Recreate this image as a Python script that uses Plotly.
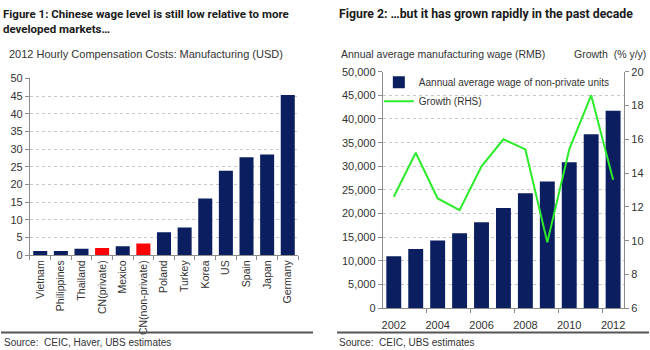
import plotly.graph_objects as go

# ---------------- data ----------------
countries = ["Vietnam", "Philippines", "Thailand", "CN(private)", "Mexico", "CN(non-private)",
             "Poland", "Turkey", "Korea", "US", "Spain", "Japan", "Germany"]
hourly_cost = [1.2, 1.2, 1.8, 2.0, 2.5, 3.3, 6.5, 7.8, 16.0, 23.9, 27.7, 28.5, 45.3]
highlight = ["CN(private)", "CN(non-private)"]

years = [2002, 2003, 2004, 2005, 2006, 2007, 2008, 2009, 2010, 2011, 2012]
wage = [11000, 12500, 14300, 15850, 18200, 21200, 24300, 26800, 30850, 36800, 41750]
growth = [12.6, 15.2, 12.5, 11.8, 14.4, 16.0, 15.4, 9.9, 15.4, 18.6, 13.6]

left_ticks = [0, 5, 10, 15, 20, 25, 30, 35, 40, 45, 50]
wage_ticks = [0, 5000, 10000, 15000, 20000, 25000, 30000, 35000, 40000, 45000, 50000]
growth_ticks = [6, 8, 10, 12, 14, 16, 18, 20]
year_labels = [2002, 2004, 2006, 2008, 2010, 2012]

# ---------------- styles ----------------
W, H = 650, 350
NAVY = "#0B1F60"
RED = "#FF0000"
GREEN = "#2BEB2B"
AXIS = "#8C8C8C"
GRID = "#C8C8C8"
TXT = "#333333"
FONT = "Liberation Sans, Arial, sans-serif"
TFONT = "Roboto, Liberation Sans, sans-serif"


def px(x):
    return x / W


def py(y):
    return 1 - y / H


fig = go.Figure()

fig.add_trace(go.Bar(
    x=countries, y=hourly_cost,
    marker=dict(color=[RED if c in highlight else NAVY for c in countries], line=dict(width=0)),
    xaxis="x", yaxis="y", showlegend=False, hoverinfo="x+y"))

fig.add_trace(go.Bar(
    x=years, y=wage, name="Aannual average wage of non-private units",
    marker=dict(color=NAVY, line=dict(width=0)),
    xaxis="x2", yaxis="y2"))

fig.add_trace(go.Scatter(
    x=years, y=growth, name="Growth (RHS)", mode="lines",
    line=dict(color=GREEN, width=2),
    xaxis="x2", yaxis="y3"))

common_tick = dict(tickfont=dict(family=FONT, size=11, color=TXT), linecolor=AXIS,
                   showline=True, tickcolor=AXIS, ticks="outside", ticklen=4, zeroline=False)

fig.update_layout(
    width=W, height=H,
    margin=dict(l=0, r=0, t=0, b=0),
    paper_bgcolor="white", plot_bgcolor="white",
    bargap=0.32,
    font=dict(family=FONT, color=TXT),
    xaxis=dict(domain=[px(29), px(298)], anchor="y", type="category",
               tickangle=-90, tickson="boundaries", showgrid=False,
               **{**common_tick, "tickfont": dict(family=FONT, size=10.5, color=TXT)}),
    yaxis=dict(domain=[py(258), py(75)], anchor="x", range=[0, 50],
               tickvals=left_ticks, showgrid=True, gridcolor=GRID, griddash="dot",
               **common_tick),
    xaxis2=dict(domain=[px(383), px(625)], anchor="y2", range=[2001.5, 2012.5],
                tickvals=year_labels, showgrid=False, ticklabelstandoff=7,
                minor=dict(tickvals=[2003.5, 2005.5, 2007.5, 2009.5, 2011.5],
                           ticks="outside", ticklen=4, tickcolor=AXIS),
                **{**common_tick, "ticks": "", "ticklen": 0}),
    yaxis2=dict(domain=[py(313), py(68)], anchor="x2", range=[0, 50000],
                tickvals=wage_ticks, tickformat=",d", showgrid=True, gridcolor=GRID, griddash="dot",
                **common_tick),
    yaxis3=dict(domain=[py(313), py(68)], anchor="x2", overlaying="y2", side="right",
                range=[6, 20], tickvals=growth_ticks, showgrid=False,
                **common_tick),
    legend=dict(x=px(379), y=py(64), xanchor="left", yanchor="top",
                bgcolor="rgba(255,255,255,0)", borderwidth=0,
                font=dict(family=FONT, size=10, color=TXT),
                tracegroupgap=0, itemwidth=30),
    showlegend=True,
)

ann = [
    dict(text="<b>Figure 1: Chinese wage level is still low relative to more</b>",
         x=px(0), y=py(8), xanchor="left", yanchor="middle",
         font=dict(family=TFONT, size=11.5, color="#1A1A1A")),
    dict(text="<b>developed markets…</b>",
         x=px(0), y=py(24), xanchor="left", yanchor="middle",
         font=dict(family=TFONT, size=11.5, color="#1A1A1A")),
    dict(text="<b>Figure 2: …but it has grown rapidly in the past decade</b>",
         x=px(337), y=py(8), xanchor="left", yanchor="middle",
         font=dict(family=TFONT, size=12.3, color="#1A1A1A")),
    dict(text="2012 Hourly Compensation Costs: Manufacturing (USD)",
         x=px(6), y=py(50), xanchor="left", yanchor="middle",
         font=dict(family=FONT, size=11, color=TXT)),
    dict(text="Annual average manufacturing wage (RMB)",
         x=px(339), y=py(50), xanchor="left", yanchor="middle",
         font=dict(family=FONT, size=10.5, color=TXT)),
    dict(text="Growth  (% y/y)",
         x=px(649), y=py(50), xanchor="right", yanchor="middle",
         font=dict(family=FONT, size=10.5, color=TXT)),
    dict(text="Source:  CEIC, Haver, UBS estimates",
         x=px(1), y=py(341), xanchor="left", yanchor="top",
         font=dict(family=FONT, size=10, color=TXT)),
    dict(text="Source:  CEIC, UBS estimates",
         x=px(337), y=py(341), xanchor="left", yanchor="top",
         font=dict(family=FONT, size=10, color=TXT)),
]
for a in ann:
    a.update(xref="paper", yref="paper", showarrow=False)
fig.update_layout(annotations=ann)

fig.update_layout(shapes=[
    dict(type="line", xref="paper", yref="paper", x0=px(0), x1=px(313), y0=py(338), y1=py(338),
         line=dict(color="#555555", width=2)),
    dict(type="line", xref="paper", yref="paper", x0=px(337), x1=px(650), y0=py(338), y1=py(338),
         line=dict(color="#555555", width=2)),
])

fig.write_html("out.html")
